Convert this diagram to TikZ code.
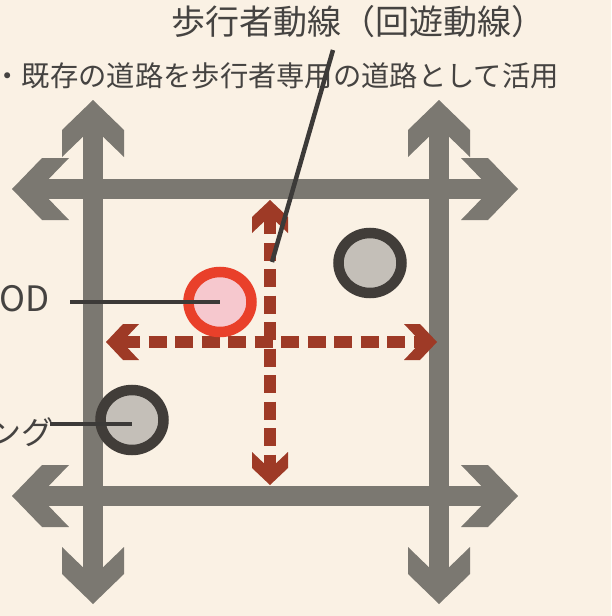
\documentclass[tikz,border=0pt]{standalone}
\usepackage{fontspec}
\newfontfamily\jp{Noto Sans CJK JP}
\usetikzlibrary{shapes.geometric}
\definecolor{bg}{HTML}{FAF1E4}
\definecolor{garr}{HTML}{7B7871}
\definecolor{rarr}{HTML}{9E3A26}
\definecolor{pinkf}{HTML}{F6C8CE}
\definecolor{reds}{HTML}{E9402A}
\definecolor{grayf}{HTML}{C4BFB8}
\definecolor{grays}{HTML}{413D39}
\definecolor{leadc}{HTML}{3C3A38}
\definecolor{txt}{HTML}{454341}
\begin{document}
\begin{tikzpicture}[x=1pt,y=-1pt,
  gshaft/.style={draw=garr, line width=20pt, shorten <=27pt, shorten >=27pt},
  rshaft/.style={draw=rarr, line width=12pt, dash pattern=on 18pt off 8.5pt, shorten <=16pt, shorten >=16pt},
  gchev/.pic={\fill[garr] (0,0) -- (-30,31) -- (-57,31) -- (-27,0) -- (-57,-31) -- (-30,-31) -- cycle;},
  rchev/.pic={\fill[rarr] (0,0) -- (-17,18) -- (-33,18) -- (-16,0) -- (-33,-18) -- (-17,-18) -- cycle;},
  poi/.style={ellipse, line width=10.5pt, minimum width=63pt, minimum height=60pt, inner sep=0pt},
  leader/.style={draw=leadc, line width=4.5pt},
  lbl/.style={text=txt, inner sep=0pt, font=\jp\fontsize{32}{36}\selectfont}
]
\useasboundingbox (0,0) rectangle (611,616);
\fill[bg] (0,0) rectangle (611,616);
\clip (0,0) rectangle (611,616);
% gray road arrows
\coordinate (v1t) at (93,100); \coordinate (v1b) at (93,604);
\coordinate (v2t) at (439,100); \coordinate (v2b) at (439,604);
\coordinate (h1l) at (12,189); \coordinate (h1r) at (518,189);
\coordinate (h2l) at (12,496); \coordinate (h2r) at (518,496);
\draw[gshaft] (v1t) -- (v1b);
\draw[gshaft] (v2t) -- (v2b);
\draw[gshaft] (h1l) -- (h1r);
\draw[gshaft] (h2l) -- (h2r);
\pic[rotate=90] at (v1t) {gchev};
\pic[rotate=-90] at (v1b) {gchev};
\pic[rotate=90] at (v2t) {gchev};
\pic[rotate=-90] at (v2b) {gchev};
\pic[rotate=180] at (h1l) {gchev};
\pic at (h1r) {gchev};
\pic[rotate=180] at (h2l) {gchev};
\pic at (h2r) {gchev};
% red pedestrian arrows
\coordinate (rl) at (106,342); \coordinate (rr) at (437,342);
\coordinate (rt) at (270,200); \coordinate (rb) at (270,485);
\draw[rshaft] (rl) -- (rr);
\draw[rshaft] (rt) -- (rb);
\pic[rotate=180] at (rl) {rchev};
\pic at (rr) {rchev};
\pic[rotate=90] at (rt) {rchev};
\pic[rotate=-90] at (rb) {rchev};
% circles
\node[poi, draw=reds, fill=pinkf] (pod) at (220,302) {};
\node[poi, draw=grays, fill=grayf] (pa) at (370,263) {};
\node[poi, draw=grays, fill=grayf] (pb) at (132,420) {};
% texts
\node[lbl, font=\jp\fontsize{34}{40}\selectfont, anchor=west] (title) at (171,22) {歩行者動線（回遊動線）};
\node[lbl, font=\jp\fontsize{28.3}{34}\selectfont, anchor=west] (sub) at (-6.5,76) {・既存の道路を歩行者専用の道路として活用};
\node[lbl, font=\jp\fontsize{35}{40}\selectfont, anchor=east] (od) at (50,299) {OD};
\node[lbl, anchor=east] (ng) at (54,432) {ング};
% leader lines
\coordinate (t1) at (333,50); \coordinate (t2) at (272,262);
\draw[leader] (t1) -- (t2);
\coordinate (o1) at (70,302);
\draw[leader] (o1) -- (pod.center);
\coordinate (n1) at (50,424); \coordinate (n2) at (132,424);
\draw[leader] (n1) -- (n2);
\end{tikzpicture}
\end{document}
